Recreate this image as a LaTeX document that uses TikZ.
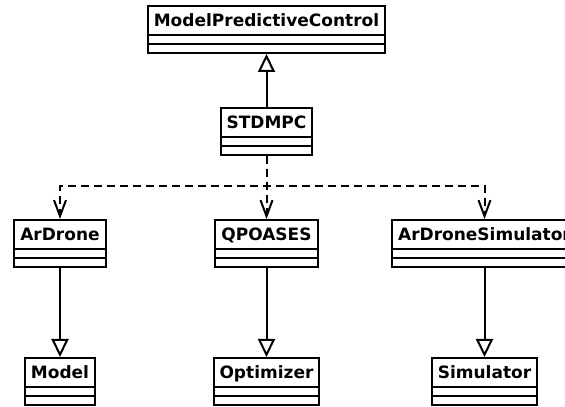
\documentclass[tikz,border=0pt]{standalone}
\usepackage{fontspec}
\setsansfont{DejaVu Sans}
\usetikzlibrary{arrows.meta, shapes.multipart, positioning}

\tikzset{
  umlclass/.style={draw, line width=2pt, rectangle split, rectangle split parts=3,
    inner xsep=6pt, inner ysep=0pt, anchor=north,
    font=\sffamily\bfseries\fontsize{17}{20}\selectfont},
  inherit/.style={line width=2pt, -{Triangle[open, length=18pt, width=17pt]}},
  depend/.style={line width=2pt, dash pattern=on 8pt off 5pt,
    -{Straight Barb[length=16pt, width=12pt]}}
}
\newcommand{\compartment}{\rule{0pt}{7pt}\hspace{1pt}}
\newcommand{\classname}[1]{\rule[-7pt]{0pt}{27pt}#1\nodepart{second}\compartment\nodepart{third}\compartment}

\begin{document}
\begin{tikzpicture}[x=1pt, y=1pt]
    \useasboundingbox (0,0) rectangle (565,407);
    % classes
    \node[umlclass] (mpc) at (266.5,402) {\classname{ModelPredictiveControl}};
    \node[umlclass] (stdmpc) at (266.5,300) {\classname{STDMPC}};
    \node[umlclass] (ardrone) at (60,188) {\classname{ArDrone}};
    \node[umlclass] (qpoases) at (266.5,188) {\classname{QPOASES}};
    \node[umlclass] (ardronesim) at (484.5,188) {\classname{ArDroneSimulator}};
    \node[umlclass] (model) at (60,50) {\classname{Model}};
    \node[umlclass] (optimizer) at (266.5,50) {\classname{Optimizer}};
    \node[umlclass] (simulator) at (484.5,50) {\classname{Simulator}};
    % generalisations
    \draw[inherit] (stdmpc.north) -- (mpc.south);
    \draw[inherit] (ardrone.south) -- (model.north);
    \draw[inherit] (qpoases.south) -- (optimizer.north);
    \draw[inherit] (ardronesim.south) -- (simulator.north);
    % dependencies
    \coordinate[below=30pt of stdmpc.south] (fork);
    \draw[depend] (stdmpc.south) -- (fork) -| (ardrone.north);
    \draw[depend] (stdmpc.south) -- (qpoases.north);
    \draw[depend] (stdmpc.south) -- (fork) -| (ardronesim.north);
\end{tikzpicture}
\end{document}
